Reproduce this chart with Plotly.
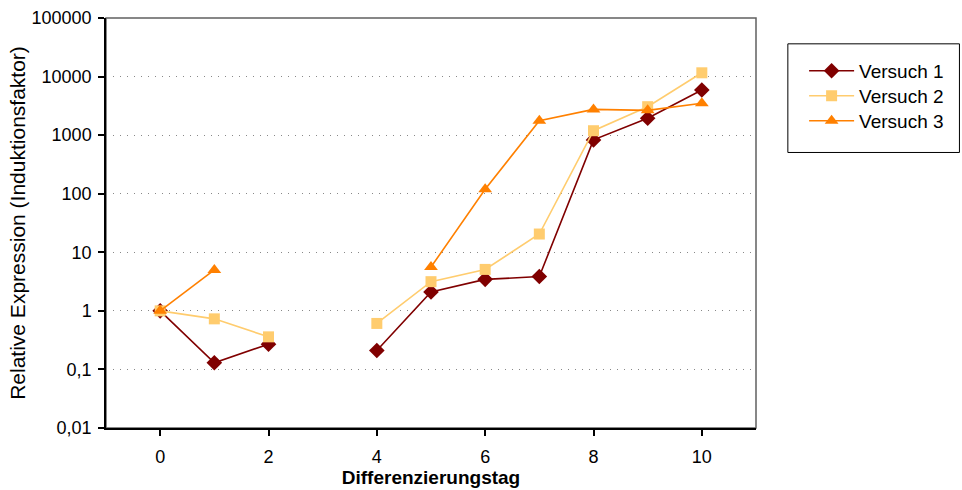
import plotly.graph_objects as go

days = [0, 1, 2, 3, 4, 5, 6, 7, 8, 9, 10]
versuch1 = [1, 0.13, 0.27, None, 0.21, 2.1, 3.45, 3.85, 830, 1940, 5900]
versuch2 = [1, 0.73, 0.36, None, 0.61, 3.15, 5.1, 20.5, 1190, 3060, 11600]
versuch3 = [1, 5.0, None, None, None, 5.6, 119, 1760, 2750, 2650, 3500]
series_names = ["Versuch 1", "Versuch 2", "Versuch 3"]
y_tickvals = [0.01, 0.1, 1, 10, 100, 1000, 10000, 100000]
y_ticktext = ["0,01", "0,1", "1", "10", "100", "1000", "10000", "100000"]
x_tickvals = [0, 2, 4, 6, 8, 10]

colors = ["#800000", "#FFCC6E", "#FF8000"]
symbols = ["diamond", "square", "triangle-up"]
sizes = [12, 11, 12]
legend_ids = ["legend", "legend2", "legend3"]
legend_y = [0.871, 0.810, 0.749]

font = "Liberation Sans, Arial, sans-serif"

fig = go.Figure()
for name, vals, c, s, sz, lid in zip(series_names, [versuch1, versuch2, versuch3], colors, symbols, sizes, legend_ids):
    fig.add_trace(go.Scatter(
        x=days, y=vals, name=name, mode="lines+markers",
        connectgaps=False, legend=lid,
        line=dict(color=c, width=1.6),
        marker=dict(symbol=s, size=sz, color=c, line=dict(width=0)),
    ))

legend_common = dict(x=1.074, xanchor="left", yanchor="middle",
                     bgcolor="rgba(0,0,0,0)", borderwidth=0,
                     font=dict(size=19, family=font), itemwidth=45)

fig.update_layout(
    width=962, height=490,
    margin=dict(l=106, r=206, t=18, b=62, autoexpand=False),
    paper_bgcolor="white", plot_bgcolor="white",
    font=dict(family=font, size=18, color="black"),
    showlegend=True,
    legend=dict(y=legend_y[0], **legend_common),
    legend2=dict(y=legend_y[1], **legend_common),
    legend3=dict(y=legend_y[2], **legend_common),
    xaxis=dict(range=[-1, 11], tickvals=x_tickvals, ticks="outside", ticklen=6,
               tickwidth=1.5, tickcolor="black", showgrid=False, zeroline=False,
               showline=True, linecolor="black", linewidth=1.5, automargin=False,
               tickfont=dict(size=18), ticklabelstandoff=6,
               title=dict(text="<b>Differenzierungstag</b>", font=dict(size=19), standoff=1)),
    yaxis=dict(type="log", range=[-2, 5], tickvals=y_tickvals, ticktext=y_ticktext,
               ticks="outside", ticklen=6, tickwidth=1.5, tickcolor="black",
               showgrid=True, gridcolor="#888888", gridwidth=1, griddash="1px,6px",
               zeroline=False, showline=True, linecolor="black", linewidth=1.5, automargin=False,
               tickfont=dict(size=18), ticklabelstandoff=3,
               title=dict(text="Relative Expression (Induktionsfaktor)", font=dict(size=21), standoff=0)),
    shapes=[
        dict(type="rect", xref="paper", yref="paper", x0=0, x1=1, y0=0, y1=1,
             line=dict(color="#606060", width=1.5), layer="below"),
        dict(type="rect", xref="paper", yref="paper", x0=1.049, x1=1.313, y0=0.672, y1=0.937,
             line=dict(color="black", width=1)),
    ],
)

fig.write_html("out.html")
